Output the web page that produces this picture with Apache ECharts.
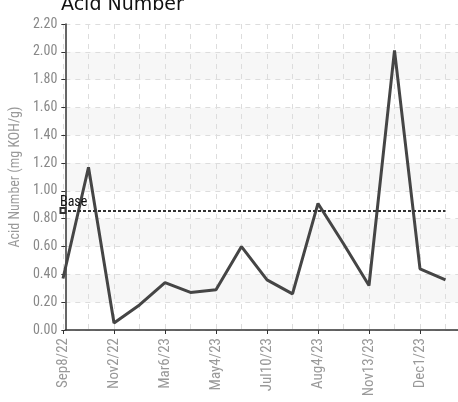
<!DOCTYPE html>
<html><head><meta charset="utf-8">
<script src="https://cdn.jsdelivr.net/npm/echarts@6/dist/echarts.min.js"></script>
<style>html,body{margin:0;padding:0;background:#fff}#c{width:458px;height:402px}</style>
</head><body><div id="c"></div>
<script>
const categories = ['Sep8/22','','Nov2/22','','Mar6/23','','May4/23','','Jul10/23','','Aug4/23','','Nov13/23','','Dec1/23',''];
const acidNumber = [0.37,1.17,0.05,0.18,0.34,0.27,0.29,0.60,0.36,0.26,0.91,0.62,0.32,2.01,0.44,0.36];
const baseValue = 0.86;
const yTicks = {min:0, max:2.2, interval:0.2};
const FONT = '"Liberation Sans Narrow","Roboto Condensed",Roboto,sans-serif';
const chart = echarts.init(document.getElementById('c'));
chart.setOption({
  animation:false,
  title:{text:'Acid Number',left:56,top:-9,textStyle:{fontFamily:'"DejaVu Sans",sans-serif',fontSize:19,fontWeight:'normal',color:'#111'}},
  grid:[{left:52,right:0,top:24,bottom:72},{left:63,right:12.5,top:24,bottom:72}],
  xAxis:[
    {gridIndex:0,type:'category',data:categories,axisLine:{lineStyle:{color:'#333',width:1.5}},axisTick:{show:false},axisLabel:{show:false},splitLine:{show:false}},
    {gridIndex:1,type:'category',boundaryGap:false,data:categories,
     axisLine:{show:false},
     axisTick:{show:true,interval:1,length:4,lineStyle:{color:'#333'}},
     axisLabel:{interval:1,rotate:90,color:'#999',fontSize:15,fontFamily:FONT,margin:8},
     splitLine:{show:true,interval:0,lineStyle:{color:'#ddd',type:[5,5]}}}
  ],
  yAxis:[
    {gridIndex:0,type:'value',min:yTicks.min,max:yTicks.max,interval:yTicks.interval,
     name:'Acid Number (mg KOH/g)',nameLocation:'middle',nameGap:38,
     nameTextStyle:{color:'#999',fontSize:14,fontFamily:FONT},
     axisLine:{show:true,lineStyle:{color:'#333',width:1.5}},
     axisTick:{show:true,length:4,lineStyle:{color:'#333'}},
     axisLabel:{color:'#888',fontSize:14,fontFamily:FONT,margin:8,formatter:v=>v.toFixed(2)},
     splitLine:{show:true,lineStyle:{color:'#ddd',type:[5,5]}},
     splitArea:{show:true,areaStyle:{color:['#ffffff','#f7f7f7']}}},
    {gridIndex:1,type:'value',min:yTicks.min,max:yTicks.max,interval:yTicks.interval,show:false,splitLine:{show:false}}
  ],
  series:[{
    type:'line',xAxisIndex:1,yAxisIndex:1,data:acidNumber,showSymbol:false,symbol:'none',
    lineStyle:{color:'#454545',width:3},
    markLine:{silent:true,symbol:['emptyRect','none'],symbolSize:5,
      lineStyle:{color:'#333',type:[3,2],width:2},
      label:{show:true,position:'insideStartTop',formatter:'Base',color:'#111',fontSize:14,fontFamily:FONT,distance:[-3,1]},
      data:[[{coord:[0,baseValue]},{coord:[15,baseValue]}]]}
  }]
});
</script></body></html>
